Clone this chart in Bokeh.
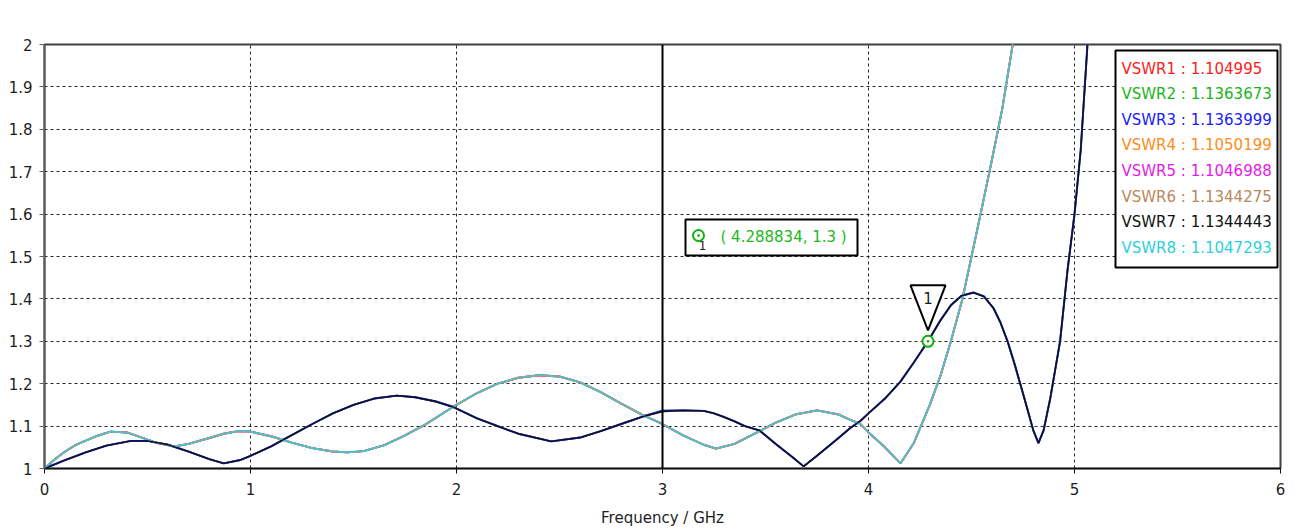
from bokeh.plotting import figure
from bokeh.models import (FixedTicker, Span, Label, BoxAnnotation,
                          CustomJSTickFormatter, Range1d)
from bokeh.core.properties import value
from bokeh.embed import file_html
from bokeh.resources import INLINE

FONT = "DejaVu Sans"
TEXT_COLOR = "#1e1e1e"

# Frequency sweep (GHz) and VSWR of the two port groups
freq_a = [0.0, 0.05, 0.1, 0.15, 0.2, 0.25, 0.32, 0.4, 0.5, 0.55, 0.63, 0.7, 0.8, 0.87,
          0.94, 1.0, 1.1, 1.2, 1.3, 1.4, 1.47, 1.55, 1.65, 1.75, 1.85, 1.95, 2.0, 2.1,
          2.2, 2.3, 2.4, 2.5, 2.6, 2.7, 2.8, 2.9, 3.0, 3.1, 3.2, 3.26, 3.35, 3.45, 3.55,
          3.65, 3.75, 3.85, 3.91, 3.96, 4.0, 4.08, 4.155, 4.22, 4.3, 4.35, 4.4, 4.456,
          4.5, 4.544, 4.6, 4.65, 4.7, 4.75]
vswr_a = [1.000, 1.022, 1.040, 1.055, 1.066, 1.076, 1.087, 1.085, 1.068, 1.060, 1.052,
          1.058, 1.072, 1.082, 1.088, 1.087, 1.076, 1.061, 1.048, 1.040, 1.038, 1.041,
          1.055, 1.078, 1.104, 1.135, 1.150, 1.178, 1.200, 1.214, 1.220, 1.217, 1.203,
          1.180, 1.153, 1.127, 1.105, 1.078, 1.056, 1.047, 1.058, 1.083, 1.108, 1.128,
          1.137, 1.128, 1.115, 1.105, 1.085, 1.050, 1.012, 1.060, 1.153, 1.220, 1.300,
          1.400, 1.500, 1.600, 1.730, 1.850, 2.000, 2.150]

freq_b = [0.0, 0.1, 0.2, 0.3, 0.42, 0.5, 0.6, 0.7, 0.8, 0.87, 0.95, 1.0, 1.1, 1.16, 1.3,
          1.4, 1.5, 1.6, 1.71, 1.8, 1.9, 1.985, 2.1, 2.2, 2.3, 2.46, 2.6, 2.7, 2.8, 2.9,
          3.0, 3.1, 3.2, 3.25, 3.3, 3.35, 3.4, 3.47, 3.55, 3.63, 3.685, 3.75, 3.85, 3.91,
          3.96, 4.0, 4.08, 4.155, 4.22, 4.288834, 4.35, 4.4, 4.45, 4.51, 4.56, 4.607,
          4.64, 4.675, 4.71, 4.75, 4.8, 4.825, 4.85, 4.883, 4.93, 4.966, 5.0, 5.03,
          5.063, 5.1]
vswr_b = [1.000, 1.020, 1.038, 1.054, 1.065, 1.065, 1.056, 1.040, 1.022, 1.012, 1.020,
          1.030, 1.052, 1.068, 1.105, 1.130, 1.150, 1.165, 1.172, 1.168, 1.158, 1.145,
          1.118, 1.100, 1.082, 1.064, 1.073, 1.088, 1.105, 1.122, 1.134, 1.137, 1.136,
          1.130, 1.121, 1.111, 1.100, 1.090, 1.058, 1.027, 1.005, 1.030, 1.070, 1.095,
          1.112, 1.130, 1.165, 1.205, 1.250, 1.300, 1.350, 1.385, 1.407, 1.415, 1.406,
          1.378, 1.345, 1.300, 1.245, 1.177, 1.090, 1.060, 1.090, 1.167, 1.300, 1.467,
          1.600, 1.750, 2.000, 2.200]

# Eight ports: name, value read at the cursor, group, colour
series_names = ["VSWR1", "VSWR2", "VSWR3", "VSWR4", "VSWR5", "VSWR6", "VSWR7", "VSWR8"]
series_at_cursor = [1.104995, 1.1363673, 1.1363999, 1.1050199,
                    1.1046988, 1.1344275, 1.1344443, 1.1047293]
series_group = ["a", "b", "b", "a", "a", "b", "b", "a"]
series_colors = ["#ff1a1a", "#1ab41a", "#1a1aff", "#ff8c1a",
                 "#e61ae6", "#b8875a", "#101010", "#2ccfdc"]
# drawing order: hidden ports first, then the visible edge colours, then the top curves
draw_order = [0, 1, 4, 5, 3, 2, 7, 6]

cursor_freq = 3.0
marker_freq = 4.288834
marker_vswr = 1.3

x_ticks = [0, 1, 2, 3, 4, 5, 6]
y_ticks = [1.0, 1.1, 1.2, 1.3, 1.4, 1.5, 1.6, 1.7, 1.8, 1.9, 2.0]
x_grid = [1, 2, 4, 5]
y_grid = [1.1, 1.2, 1.3, 1.4, 1.5, 1.6, 1.7, 1.8, 1.9]

W, H = 1295, 529
FL, FT, FR, FB = 44, 44, 1280, 468
X_LO, X_HI, Y_LO, Y_HI = 0.0, 6.0, 1.0, 2.0
PX_X = (X_HI - X_LO) / (FR - FL)   # GHz per pixel
PX_Y = (Y_HI - Y_LO) / (FB - FT)   # VSWR per pixel


def at_x(px):
    return X_LO + (px - FL) * PX_X


def at_y(py):
    return Y_HI - (py - FT) * PX_Y


p = figure(width=W, height=H, output_backend="svg", toolbar_location=None,
           x_range=Range1d(X_LO, X_HI), y_range=Range1d(Y_LO, Y_HI),
           min_border_left=FL, min_border_top=FT, min_border_right=W - FR,
           min_border_bottom=H - FB)
p.background_fill_color = "white"
p.border_fill_color = "white"
p.outline_line_color = "#404040"
p.outline_line_width = 2

# axes
p.xaxis.ticker = FixedTicker(ticks=x_ticks)
p.yaxis.ticker = FixedTicker(ticks=y_ticks)
p.yaxis.formatter = CustomJSTickFormatter(code="return Number(tick.toFixed(2)).toString();")
for ax in (p.xaxis[0], p.yaxis[0]):
    ax.major_label_text_font = FONT
    ax.major_label_text_font_size = "15px"
    ax.major_label_text_color = TEXT_COLOR
    ax.major_tick_in = 0
    ax.major_tick_out = 5
    ax.minor_tick_out = 0
    ax.minor_tick_in = 0
    ax.major_label_standoff = 7
p.xaxis.major_label_standoff = 9
p.xaxis.axis_line_color = "#111111"
p.xaxis.axis_line_width = 1.5
p.xaxis.major_tick_line_color = "#111111"
p.yaxis.axis_line_color = "#606060"
p.yaxis.axis_line_width = 2
p.yaxis.major_tick_line_color = "#606060"
p.xaxis.axis_label = "Frequency / GHz"
p.xaxis.axis_label_text_font = FONT
p.xaxis.axis_label_text_font_size = "15px"
p.xaxis.axis_label_text_font_style = "normal"
p.xaxis.axis_label_text_color = TEXT_COLOR
p.xaxis.axis_label_standoff = 11

# dashed grid
p.xgrid.ticker = FixedTicker(ticks=x_grid)
p.ygrid.ticker = FixedTicker(ticks=y_grid)
for g in (p.xgrid[0], p.ygrid[0]):
    g.grid_line_color = "#000000"
    g.grid_line_dash = "3 3"
    g.grid_line_width = 1
    g.grid_line_alpha = 0.85

# curves
groups = {"a": (freq_a, vswr_a), "b": (freq_b, vswr_b)}
for i in draw_order:
    fx, fy = groups[series_group[i]]
    ys = [series_at_cursor[i] if f == cursor_freq else v for f, v in zip(fx, fy)]
    width = {6: 1.3, 7: 1.6}.get(i, 1.9)
    p.line(fx, ys, line_color=series_colors[i], line_width=width)

# cursor line at 3 GHz
p.add_layout(Span(location=cursor_freq, dimension="height",
                  line_color="#000000", line_width=2))

# title
p.add_layout(Label(x=(X_LO + X_HI) / 2, y=Y_HI, y_offset=27,
                   text="Voltage Standing Wave Ratio (VSWR)",
                   text_align="center", text_baseline="middle", text_font=FONT,
                   text_font_size="15px", text_color=TEXT_COLOR))

# cursor read-out box
p.add_layout(BoxAnnotation(left=at_x(1115), right=at_x(1277), top=at_y(50), bottom=at_y(267),
                           fill_color="white", fill_alpha=1, line_color="#000000",
                           line_alpha=1, line_width=2))
row_y = [at_y(68 + 25.6 * k) for k in range(len(series_names))]
p.text([at_x(1121)] * len(series_names), row_y,
       text=[f"{n} : {v}" for n, v in zip(series_names, series_at_cursor)],
       text_color=series_colors, text_font=value(FONT), text_font_size="15px",
       text_align="left", text_baseline="middle", level="overlay")

# marker 1: triangle flag above the point
tri_x = [marker_freq, marker_freq - 17.5 * PX_X, marker_freq + 17.5 * PX_X]
tri_y = [marker_vswr + 11 * PX_Y, marker_vswr + 56 * PX_Y, marker_vswr + 56 * PX_Y]
p.patch(tri_x, tri_y, fill_color="white", line_color="#000000", line_width=2,
        level="overlay")
p.text([marker_freq], [marker_vswr + 43 * PX_Y], text=["1"], text_color=TEXT_COLOR,
       text_font=value(FONT), text_font_size="15px", text_align="center",
       text_baseline="middle", level="overlay")
p.scatter([marker_freq], [marker_vswr], marker="circle_dot", size=11,
          fill_color="white", line_color="#10b010", line_width=2, level="overlay")

# marker read-out box
p.add_layout(BoxAnnotation(left=at_x(685), right=at_x(857), top=at_y(219), bottom=at_y(255),
                           fill_color="white", fill_alpha=1, line_color="#000000",
                           line_alpha=1, line_width=2))
p.scatter([at_x(698)], [at_y(235)], marker="circle_dot", size=11,
          fill_color="white", line_color="#10b010", line_width=2, level="overlay")
p.text([at_x(702)], [at_y(245)], text=["1"], text_color="#2a2016",
       text_font=value(FONT), text_font_size="12px", text_align="center",
       text_baseline="middle", level="overlay")
p.text([at_x(720)], [at_y(236)], text=[f"( {marker_freq}, {marker_vswr} )"],
       text_color="#22b822", text_font=value(FONT), text_font_size="15px",
       text_align="left", text_baseline="middle", level="overlay")

open("out.html", "w").write(file_html(p, INLINE))
